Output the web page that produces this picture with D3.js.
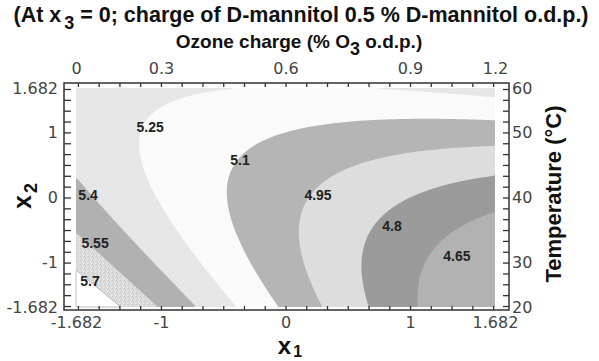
<!DOCTYPE html>
<html>
<head>
<meta charset="utf-8">
<script src="https://cdn.jsdelivr.net/npm/d3@7"></script>
<style>
  body { margin: 0; background: #fff; }
  svg { display: block; }
</style>
</head>
<body>
<svg id="chart" width="599" height="361"></svg>
<script>
// fitted response surface in coded units, coefficients
// y = b0 + b1*x1 + b2*x2 + b11*x1^2 + b22*x2^2 + b12*x1*x2
var coefNames  = ["b0", "b1", "b2", "b11", "b22", "b12"];
var coefValues = [4.99, -0.22, 0.05, 0.03, 0.06, 0.126];

// contour levels and where their labels sit (coded x1, x2)
var levels      = [4.65, 4.8, 4.95, 5.1, 5.25, 5.4, 5.55, 5.7];
var levelText   = ["4.65", "4.8", "4.95", "5.1", "5.25", "5.4", "5.55", "5.7"];
var labelX1     = [1.376, 0.855, 0.261, -0.365, -1.087, -1.585, -1.529, -1.569];
var labelX2     = [-0.899, -0.438, 0.038, 0.576, 1.083, 0.038, -0.699, -1.283];

// axes
var codedTicks   = [-1.682, -1, 0, 1, 1.682];
var codedLabels  = ["-1.682", "-1", "0", "1", "1.682"];
var ozoneLabels  = ["0", "0.3", "0.6", "0.9", "1.2"];
var tempLabels   = ["20", "30", "40", "50", "60"];

// band fills, lowest band first
var bandColors = ["#b2b2b2", "#9b9b9b", "#dddddd", "#b5b5b5", "#fafafa",
                  "#e6e6e6", "#b1b1b1", "url(#speck)", "#ffffff"];

var svg = d3.select("#chart");

var x = d3.scaleLinear().domain([-1.682, 1.682]).range([76, 495]);
var y = d3.scaleLinear().domain([-1.682, 1.682]).range([307, 88]);

var coef = {};
coefNames.forEach(function(n, i) { coef[n] = coefValues[i]; });

function surface(x1, x2) {
  return coef.b0 + coef.b1 * x1 + coef.b2 * x2 + coef.b11 * x1 * x1 +
         coef.b22 * x2 * x2 + coef.b12 * x1 * x2;
}

// speckled fill
var defs = svg.append("defs");
var pat = defs.append("pattern").attr("id", "speck")
  .attr("width", 4).attr("height", 4).attr("patternUnits", "userSpaceOnUse");
pat.append("rect").attr("width", 4).attr("height", 4).attr("fill", "#dadada");
[[0, 0, "#c9c9c9"], [2, 1, "#eeeeee"], [1, 2, "#cdcdcd"], [3, 3, "#f0f0f0"], [3, 1, "#d0d0d0"]]
  .forEach(function(p) {
    pat.append("rect").attr("x", p[0]).attr("y", p[1]).attr("width", 1).attr("height", 1).attr("fill", p[2]);
  });

// frame background
svg.append("rect").attr("x", 64).attr("y", 83).attr("width", 445).attr("height", 227)
  .attr("fill", "#fff");

// grid for contouring
var nx = 240, ny = 126;
var x0 = x.domain()[0], x1d = x.domain()[1];
var y0 = y.domain()[0], y1d = y.domain()[1];
var grid = new Array(nx * ny);
for (var j = 0; j < ny; j++) {
  for (var i = 0; i < nx; i++) {
    var cx = x0 + (i + 0.5) / nx * (x1d - x0);
    var cy = y1d - (j + 0.5) / ny * (y1d - y0);
    grid[j * nx + i] = surface(cx, cy);
  }
}

var gx = d3.scaleLinear().domain([0, nx]).range(x.range());
var gy = d3.scaleLinear().domain([0, ny]).range([y(y1d), y(y0)]);
var path = d3.geoPath(d3.geoTransform({
  point: function(px, py) { this.stream.point(gx(px), gy(py)); }
}));

var plot = svg.append("g");
plot.append("rect")
  .attr("x", x(x0)).attr("y", y(y1d))
  .attr("width", x(x1d) - x(x0)).attr("height", y(y0) - y(y1d))
  .attr("fill", bandColors[0]);

var contours = d3.contours().size([nx, ny]).thresholds(levels)(grid);
plot.selectAll("path.band")
  .data(contours)
  .join("path")
  .attr("class", "band")
  .attr("d", path)
  .attr("fill", function(d, i) { return bandColors[i + 1]; })
  .attr("stroke", function(d, i) { return i === levels.length - 1 ? "#aaa" : "none"; })
  .attr("stroke-width", 0.8);

// contour labels
plot.selectAll("text.lvl")
  .data(levels)
  .join("text")
  .attr("class", "lvl")
  .attr("x", function(d, i) { return x(labelX1[i]); })
  .attr("y", function(d, i) { return y(labelX2[i]); })
  .attr("dy", "0.35em")
  .attr("text-anchor", "middle")
  .attr("font-family", "Liberation Sans, Arial, sans-serif")
  .attr("font-weight", "bold")
  .attr("font-size", 14)
  .attr("fill", "#222")
  .text(function(d, i) { return levelText[i]; });

// frame
svg.append("rect").attr("x", 64).attr("y", 83).attr("width", 445).attr("height", 227)
  .attr("fill", "none").attr("stroke", "#333").attr("stroke-width", 1.5);

// minor ticks every 1/6 coded unit
var minor = d3.range(-10, 11).map(function(k) { return k / 6; });

function styleTicks(g) {
  g.select(".domain").remove();
  g.selectAll(".tick line").attr("stroke", "#333").attr("stroke-width", 1.3);
}

svg.append("g").attr("transform", "translate(0,310)")
  .call(d3.axisBottom(x).tickValues(minor).tickSize(-4).tickFormat(""))
  .call(styleTicks);
svg.append("g").attr("transform", "translate(0,83)")
  .call(d3.axisTop(x).tickValues(minor).tickSize(-4).tickFormat(""))
  .call(styleTicks);
svg.append("g").attr("transform", "translate(64,0)")
  .call(d3.axisLeft(y).tickValues(minor).tickSize(-7).tickFormat(""))
  .call(styleTicks);
svg.append("g").attr("transform", "translate(509,0)")
  .call(d3.axisRight(y).tickValues(minor).tickSize(-6).tickFormat(""))
  .call(styleTicks);

// tick labels
function styleLabels(g) {
  g.select(".domain").remove();
  g.selectAll(".tick line").remove();
  g.attr("font-family", "DejaVu Sans, sans-serif").attr("font-size", 16);
  g.selectAll(".tick text").attr("fill", "#444");
}

svg.append("g").attr("transform", "translate(0,310)")
  .call(d3.axisBottom(x).tickValues(codedTicks).tickSize(0).tickPadding(7)
    .tickFormat(function(d, i) { return codedLabels[i]; }))
  .call(styleLabels);
svg.append("g").attr("transform", "translate(0,83)")
  .call(d3.axisTop(x).tickValues(codedTicks).tickSize(0).tickPadding(9)
    .tickFormat(function(d, i) { return ozoneLabels[i]; }))
  .call(styleLabels);
svg.append("g").attr("transform", "translate(64,0)")
  .call(d3.axisLeft(y).tickValues(codedTicks).tickSize(0).tickPadding(6)
    .tickFormat(function(d, i) { return codedLabels[i]; }))
  .call(styleLabels);
svg.append("g").attr("transform", "translate(509,0)")
  .call(d3.axisRight(y).tickValues(codedTicks).tickSize(0).tickPadding(3)
    .tickFormat(function(d, i) { return tempLabels[i]; }))
  .call(styleLabels);

// titles
var boldFont = "Liberation Sans, Arial, sans-serif";

var t1 = svg.append("text")
  .attr("x", 301).attr("y", 22)
  .attr("text-anchor", "middle")
  .attr("font-family", boldFont).attr("font-weight", "bold").attr("font-size", 21.5)
  .attr("fill", "#111");
t1.append("tspan").text("(At x");
t1.append("tspan").attr("dx", 3).attr("dy", 7).attr("font-size", 18).text("3");
t1.append("tspan").attr("dy", -7).text(" = 0; charge of D-mannitol 0.5 % D-mannitol o.d.p.)");

var t2 = svg.append("text")
  .attr("x", 299).attr("y", 48)
  .attr("text-anchor", "middle")
  .attr("font-family", boldFont).attr("font-weight", "bold").attr("font-size", 19)
  .attr("fill", "#111");
t2.append("tspan").text("Ozone charge (% O");
t2.append("tspan").attr("dy", 7).attr("font-size", 18).text("3");
t2.append("tspan").attr("dy", -7).text(" o.d.p.)");

var t3 = svg.append("text")
  .attr("x", 290).attr("y", 354)
  .attr("text-anchor", "middle")
  .attr("font-family", boldFont).attr("font-weight", "bold").attr("font-size", 24)
  .attr("fill", "#111");
t3.append("tspan").text("x");
t3.append("tspan").attr("dx", 2).attr("dy", 3).attr("font-size", 16).text("1");

var t4 = svg.append("text")
  .attr("transform", "translate(31,196) rotate(-90)")
  .attr("text-anchor", "middle")
  .attr("font-family", boldFont).attr("font-weight", "bold").attr("font-size", 25)
  .attr("fill", "#111");
t4.append("tspan").text("x");
t4.append("tspan").attr("dx", 2).attr("dy", 6).attr("font-size", 18).text("2");

svg.append("text")
  .attr("transform", "translate(561,194) rotate(-90)")
  .attr("text-anchor", "middle")
  .attr("font-family", boldFont).attr("font-weight", "bold").attr("font-size", 22)
  .attr("fill", "#111")
  .text("Temperature (°C)");
</script>
</body>
</html>
